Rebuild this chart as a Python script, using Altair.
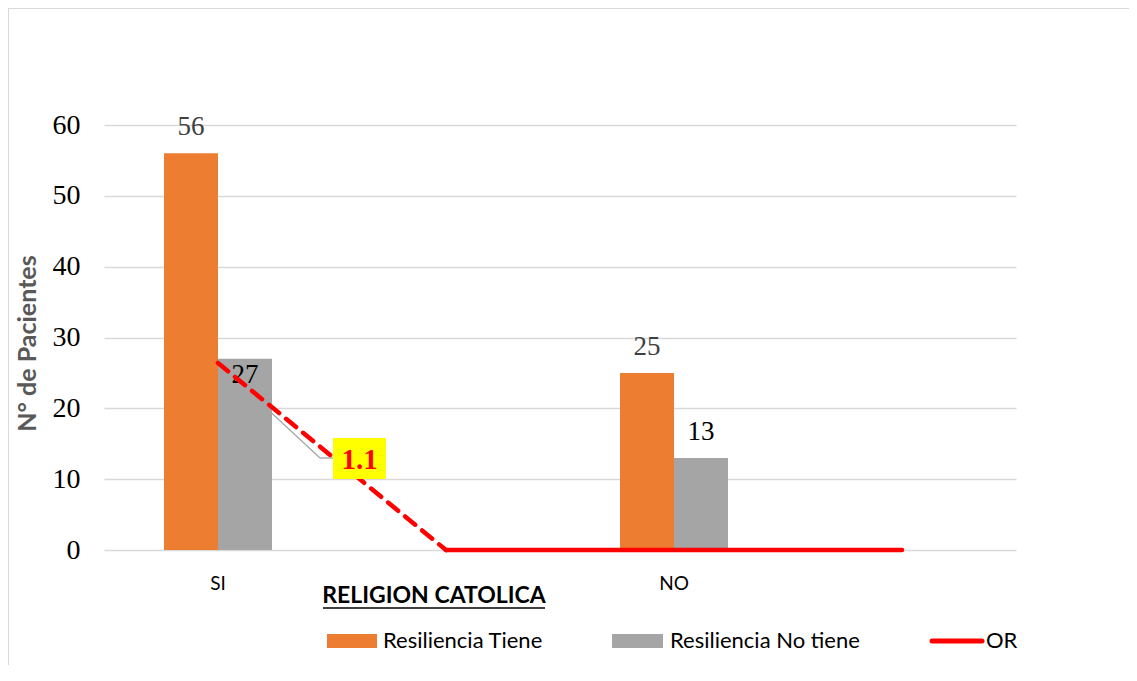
import altair as alt
import pandas as pd

# ---- data ----
categories = ["SI", "NO"]
series = ["Resiliencia Tiene", "Resiliencia No tiene"]
tiene = [56, 25]
no_tiene = [27, 13]
slots = ["SI", "SI_b", "NO", "NO_b"]          # 4 category slots of the OR series
or_values = [1.1, 0, 0, 0]
or_label = ["1.1"]
y_ticks = [0, 10, 20, 30, 40, 50, 60]
x_title = "RELIGION CATOLICA"
y_title = "N° de Pacientes"
legend_or = "OR"

bars_df = pd.DataFrame({
    "cat": categories * 2,
    "serie": [series[0]] * len(categories) + [series[1]] * len(categories),
    "valor": tiene + no_tiene,
})
or_df = pd.DataFrame({"cat": slots, "OR": or_values, "idx": list(range(len(slots)))})
one = pd.DataFrame({"t": or_label})

SANS = "Lato"
SERIF = "Liberation Serif"

x_enc = alt.X("cat:N", scale=alt.Scale(domain=slots, paddingInner=0, paddingOuter=0),
              axis=alt.Axis(labelExpr="datum.value == 'SI' || datum.value == 'NO' ? datum.value : ''",
                            labelAngle=0, labelFont=SANS, labelFontSize=19, labelColor="#000000",
                            labelPadding=24, ticks=False, domain=False, grid=False),
              title=None)
xo_enc = alt.XOffset("serie:N", scale=alt.Scale(domain=series, paddingInner=0, paddingOuter=0,
                                                range=[60, 168]))
y_enc = alt.Y("valor:Q", scale=alt.Scale(domain=[0, 60]),
              axis=alt.Axis(values=y_ticks, labelFont=SERIF, labelFontSize=28, labelColor="#000000",
                            labelPadding=24, ticks=False, domain=False, grid=True,
                            gridColor="#D9D9D9", gridWidth=1.3,
                            titleFont=SANS, titleFontSize=25, titleFontWeight="bold",
                            titleColor="#595959", titleAngle=270, titleX=-77, titleY=218,
                            titleAlign="center", titleBaseline="middle"),
              title=y_title)

base = alt.Chart(bars_df)

leader1 = alt.Chart(one).mark_rule(color="#A6A6A6", strokeWidth=1.3).encode(
    x=alt.value(114), y=alt.value(238), x2=alt.value(216), y2=alt.value(333))
leader2 = alt.Chart(one).mark_rule(color="#A6A6A6", strokeWidth=1.3).encode(
    x=alt.value(216), y=alt.value(333), x2=alt.value(229), y2=alt.value(333))

bars = base.mark_bar().encode(
    x=x_enc, xOffset=xo_enc, y=y_enc,
    color=alt.Color("serie:N", scale=alt.Scale(domain=series, range=["#ED7D31", "#A5A5A5"]), legend=None),
)
label_color = alt.condition(alt.datum.serie == series[0], alt.value("#404040"), alt.value("#000000"))
labels = base.transform_filter(
    "!(datum.cat == 'SI' && datum.serie == 'Resiliencia No tiene')"
).mark_text(font=SERIF, fontSize=27, baseline="middle", dy=-26).encode(
    x=x_enc, xOffset=xo_enc, y=y_enc, text="valor:Q", color=label_color)
label_in = base.transform_filter(
    "datum.cat == 'SI' && datum.serie == 'Resiliencia No tiene'"
).mark_text(font=SERIF, fontSize=27, baseline="middle", dy=16).encode(
    x=x_enc, xOffset=xo_enc, y=y_enc, text="valor:Q", color=label_color)

left = alt.layer(bars, labels, label_in)

or_y = alt.Y("OR:Q", scale=alt.Scale(domain=[0, 2.5]), axis=None)
or_dash = alt.Chart(or_df).transform_filter("datum.idx <= 1").mark_line(
    color="#FF0000", strokeWidth=4.5, strokeDash=[13, 9], strokeCap="round").encode(
    x=x_enc, y=or_y, order="idx:Q")
or_solid = alt.Chart(or_df).transform_filter("datum.idx >= 1").mark_line(
    color="#FF0000", strokeWidth=4.5, strokeCap="round").encode(
    x=x_enc, y=or_y, order="idx:Q")

right = alt.layer(or_dash, or_solid)

# OR data label box
box = alt.Chart(one).mark_rect(color="#FFFF00").encode(
    x=alt.value(229), x2=alt.value(282), y=alt.value(313), y2=alt.value(354))
box_txt = alt.Chart(one).mark_text(font=SERIF, fontSize=29, fontWeight="bold", color="#FF0000",
                                   baseline="middle", align="center").encode(
    x=alt.value(255.5), y=alt.value(335), text="t:N")

# x axis title with underline
xt = alt.Chart(one).mark_text(font=SANS, fontSize=23, fontWeight="bold", color="#000000",
                              align="center", baseline="middle").encode(
    x=alt.value(330), y=alt.value(471), text=alt.value(x_title))
xt_line = alt.Chart(one).mark_rule(color="#000000", strokeWidth=1.5).encode(
    x=alt.value(219), x2=alt.value(441), y=alt.value(483))

# legend
lg_df = pd.DataFrame({"serie": series})
lg1 = alt.Chart(one).mark_rect(color="#ED7D31").encode(
    x=alt.value(223), x2=alt.value(273), y=alt.value(509), y2=alt.value(523))
lg1t = alt.Chart(lg_df).transform_filter(alt.datum.serie == series[0]).mark_text(
    font=SANS, fontSize=22, align="left", baseline="middle", color="#000000").encode(
    x=alt.value(279), y=alt.value(516), text="serie:N")
lg2 = alt.Chart(one).mark_rect(color="#A5A5A5").encode(
    x=alt.value(508), x2=alt.value(559), y=alt.value(509), y2=alt.value(523))
lg2t = alt.Chart(lg_df).transform_filter(alt.datum.serie == series[1]).mark_text(
    font=SANS, fontSize=22, align="left", baseline="middle", color="#000000").encode(
    x=alt.value(566), y=alt.value(516), text="serie:N")
lg3 = alt.Chart(one).mark_rule(color="#FF0000", strokeWidth=5, strokeCap="round").encode(
    x=alt.value(828), x2=alt.value(878), y=alt.value(516))
lg3t = alt.Chart(one).mark_text(font=SANS, fontSize=22, align="left", baseline="middle",
                                color="#000000").encode(
    x=alt.value(882), y=alt.value(516), text=alt.value(legend_or))

# outer frame (left and top edges)
fr1 = alt.Chart(one).mark_rule(color="#D9D9D9", strokeWidth=1).encode(
    x=alt.value(-95.5), y=alt.value(-117), y2=alt.value(540))
fr2 = alt.Chart(one).mark_rule(color="#D9D9D9", strokeWidth=1).encode(
    x=alt.value(-96), x2=alt.value(1025), y=alt.value(-116.5))

chart = alt.layer(
    leader1, leader2, left, right, box, box_txt, xt, xt_line,
    lg1, lg1t, lg2, lg2t, lg3, lg3t, fr1, fr2
).resolve_scale(y="independent").properties(
    width=912, height=425,
    autosize=alt.AutoSizeParams(type="none"),
    padding={"left": 96, "top": 117, "right": 113, "bottom": 118},
    background="#FFFFFF",
).configure_view(stroke=None)

chart.save("out.html", embed_options={"renderer": "svg", "actions": False})
